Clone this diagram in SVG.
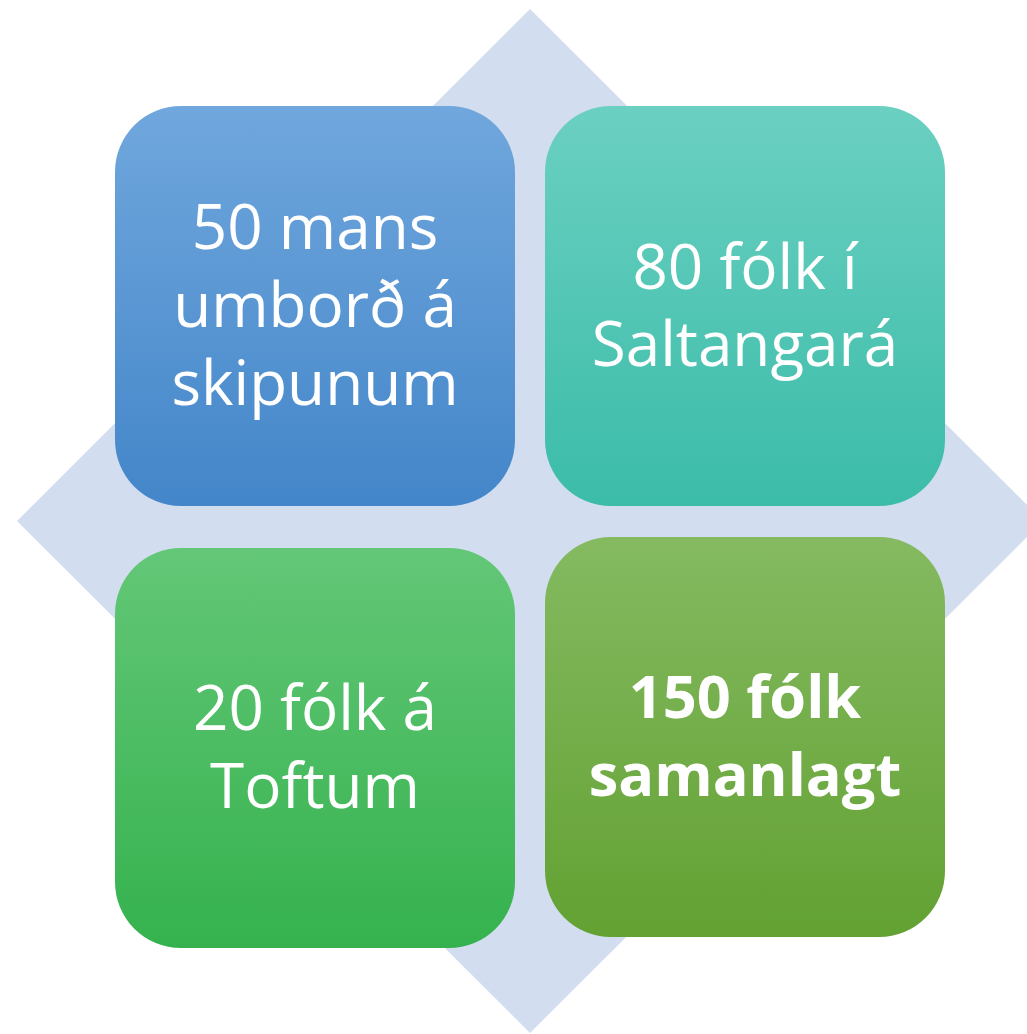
<svg xmlns="http://www.w3.org/2000/svg" width="1027" height="1034" viewBox="0 0 1027 1034">
<defs>
<linearGradient id="gBlue" x1="0" y1="0" x2="0" y2="1"><stop offset="0" stop-color="#70A7DD"/><stop offset="1" stop-color="#4386C9"/></linearGradient>
<linearGradient id="gTeal" x1="0" y1="0" x2="0" y2="1"><stop offset="0" stop-color="#6BD0C1"/><stop offset="1" stop-color="#3BBCA9"/></linearGradient>
<linearGradient id="gGreen" x1="0" y1="0" x2="0" y2="1"><stop offset="0" stop-color="#63C777"/><stop offset="1" stop-color="#35B24E"/></linearGradient>
<linearGradient id="gOlive" x1="0" y1="0" x2="0" y2="1"><stop offset="0" stop-color="#85BA61"/><stop offset="1" stop-color="#62A132"/></linearGradient>
</defs>
<style>
.t{font-family:"Open Sans","Noto Sans","Liberation Sans",sans-serif;font-size:62px;fill:#FFFFFF;text-anchor:middle}
.b{font-weight:bold;font-size:59.5px}
</style>
<polygon id="diamond" points="530,9 1043,521 530,1033 17,521" fill="#D2DDEF"/>
<g id="node1">
<rect x="115" y="106" width="400" height="400" rx="66" fill="url(#gBlue)"/>
<text class="t" x="315" y="249">50 mans</text>
<text class="t" x="315" y="327">umborð á</text>
<text class="t" x="315" y="405">skipunum</text>
</g>
<g id="node2">
<rect x="545" y="106" width="400" height="400" rx="66" fill="url(#gTeal)"/>
<text class="t" x="745" y="289">80 fólk í</text>
<text class="t" x="745" y="366">Saltangará</text>
</g>
<g id="node3">
<rect x="115" y="548" width="400" height="400" rx="66" fill="url(#gGreen)"/>
<text class="t" x="315" y="730">20 fólk á</text>
<text class="t" x="315" y="808">Toftum</text>
</g>
<g id="node4">
<rect x="545" y="537" width="400" height="400" rx="66" fill="url(#gOlive)"/>
<text class="t b" x="745" y="718">150 fólk</text>
<text class="t b" x="745" y="796">samanlagt</text>
</g>
<g id="connectors"/>
</svg>
